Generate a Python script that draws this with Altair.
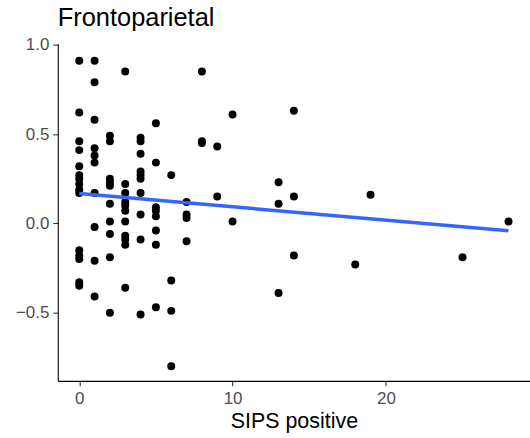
import altair as alt
import pandas as pd

# SIPS positive counts and Frontoparietal values
sips = (
    [0] * 15 + [1] * 10 + [2] * 10 + [3] * 11 + [4] * 10 + [5] * 8 + [6] * 4 + [7] * 4
    + [8] * 3 + [9] * 2 + [10] * 2 + [13] * 3 + [14] * 3 + [18] + [19] + [25] + [28]
)
fronto = [
    0.91, 0.62, 0.46, 0.41, 0.32, 0.27, 0.25, 0.22, 0.19, 0.17, -0.15, -0.18, -0.20, -0.33, -0.35,
    0.91, 0.79, 0.58, 0.42, 0.38, 0.34, 0.17, -0.02, -0.21, -0.41,
    0.49, 0.46, 0.25, 0.23, 0.21, 0.11, 0.01, -0.06, -0.19, -0.50,
    0.85, 0.22, 0.17, 0.12, 0.10, 0.07, 0.01, -0.07, -0.09, -0.12, -0.36,
    0.48, 0.46, 0.39, 0.29, 0.27, 0.25, 0.17, 0.05, -0.09, -0.51,
    0.56, 0.34, 0.09, 0.07, 0.04, -0.04, -0.12, -0.47,
    0.27, -0.32, -0.49, -0.80,
    0.12, 0.05, 0.03, -0.10,
    0.85, 0.46, 0.45,
    0.43, 0.15,
    0.61, 0.01,
    0.23, 0.11, -0.39,
    0.63, 0.15, -0.18,
    -0.23,
    0.16,
    -0.19,
    0.01,
]
x_ticks = [0, 10, 20]
y_ticks = [-0.5, 0.0, 0.5, 1.0]

df = pd.DataFrame({"sips": sips, "fp": fronto})

FONT = "Liberation Sans"
xscale = alt.Scale(domain=[-1.4, 29.4], nice=False, zero=False)
yscale = alt.Scale(domain=[-0.882, 1.006], nice=False, zero=False)

xaxis = alt.Axis(
    values=x_ticks, title="SIPS positive", grid=False,
    domainColor="black", domainWidth=1.1, tickColor="#333333", tickWidth=1.1, tickSize=5,
    labelColor="#4D4D4D", labelFontSize=17, labelFont=FONT, labelPadding=5,
    titleFont=FONT, titleFontSize=21.5, titleFontWeight="normal", titleColor="black",
    titlePadding=4,
)
yaxis = alt.Axis(
    values=y_ticks, title=None, grid=False,
    domainColor="black", domainWidth=1.1, tickColor="#333333", tickWidth=1.1, tickSize=5,
    labelColor="#4D4D4D", labelFontSize=17, labelFont=FONT, labelPadding=4,
    labelExpr="datum.value < 0 ? '\u2212' + format(-datum.value, '.1f') : format(datum.value, '.1f')",
)

base = alt.Chart(df)
points = base.mark_circle(size=64, color="black", opacity=1).encode(
    x=alt.X("sips:Q", scale=xscale, axis=xaxis),
    y=alt.Y("fp:Q", scale=yscale, axis=yaxis),
)
line = base.transform_regression("sips", "fp", extent=[0, 28]).mark_line(
    color="#3366FF", strokeWidth=3.5
).encode(
    x=alt.X("sips:Q", scale=xscale),
    y=alt.Y("fp:Q", scale=yscale),
)

chart = (
    alt.layer(points, line)
    .properties(
        width=474, height=338.5,
        autosize=alt.AutoSizeParams(type="none"),
        padding={"left": 58, "top": 43, "right": 0, "bottom": 57},
        title=alt.TitleParams(
            "Frontoparietal", anchor="start", frame="group", font=FONT,
            fontSize=25.5, fontWeight="normal", color="black", offset=4,
        ),
    )
    .configure(background="white")
    .configure_view(stroke="transparent", strokeWidth=0)
    .configure_axis(grid=False)
)

chart.save("out.html", embed_options={"renderer": "svg", "actions": False})
